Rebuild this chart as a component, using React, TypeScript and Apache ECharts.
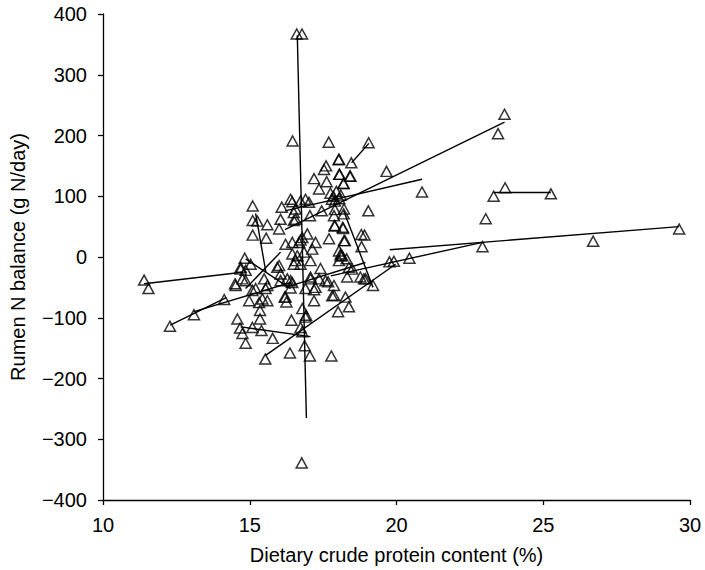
import React, { useEffect, useRef } from "react";
import * as echarts from "echarts";

// Scatter points: [crude protein %, rumen N balance g N/day]
const pointsX: number[] = [
  23.68, 23.46, 23.7, 23.31, 25.26, 23.04, 29.63, 26.7, 22.93, 20.44, 19.91, 19.76, 20.87, 19.66, 19.04, 19.05,
  16.6, 16.78, 16.46, 17.69,
  18.03, 18.46, 17.6, 17.53, 17.19, 18.05, 18.43, 17.62, 18.2, 17.36,
  16.39, 16.45, 16.73, 16.9, 17.02,
  17.75, 17.85, 17.95, 18.05, 17.9, 18.1, 17.8,
  15.1, 16.09, 16.56, 16.5, 17.05, 15.1, 15.26, 15.6, 16.05, 16.0, 16.56, 16.5, 17.87, 18.2, 17.9, 18.18,
  15.1, 15.56, 16.22, 16.45, 16.73, 16.96, 17.24, 17.7, 16.45, 16.62, 16.85, 17.07, 16.5, 16.73, 17.41, 18.1, 18.04,
  14.83, 14.69, 15.03, 11.4, 11.55,
  17.45, 17.9, 18.91, 18.24, 16.68, 16.79, 18.81, 17.13, 18.04, 18.1, 18.15, 18.3, 16.56, 18.38, 18.49,
  18.77, 18.89, 18.95, 19.2, 18.32, 17.07, 17.36, 17.58, 17.87, 16.39, 16.45, 16.9, 17.19, 17.81, 18.26,
  14.69, 14.86, 15.94, 16.05, 14.75, 14.86, 14.52, 15.49, 15.6, 15.54, 16.05, 16.28, 15.09, 15.2, 14.13,
  14.98, 15.43, 15.6, 16.22,
  12.28, 13.1, 14.58, 14.67, 14.75, 14.86, 15.09, 15.35, 15.4, 15.78, 15.53, 16.37, 17.05, 17.78, 16.77,
  16.73, 16.87, 16.9, 16.79, 14.5, 15.32, 15.35, 16.0, 16.19, 16.25, 16.39, 16.42, 17.07, 17.24, 17.19,
  17.67, 17.87, 16.92, 16.79, 18.01, 18.38, 18.21, 18.06, 18.19, 17.89, 18.17, 18.21, 18.8, 18.04, 18.41
];
const pointsY: number[] = [
  235, 203, 114, 100, 104, 63, 46, 26, 17, -2, -7, -8, 107, 141, 76, 188,
  367, 367, 191, 189,
  160, 155, 150, 144, 129, 136, 133, 124, 121, 112,
  95, 91, 92, 95, 90,
  105, 100, 108, 96, 92, 102, 95,
  84, 82, 79, 73, 68, 60, 59, 53, 62, 46, 62, 60, 68, 71, 51, 47,
  36, 31, 21, 24, 28, 38, 24, 30, 5, 2, 8, -6, -12, -12, -19, 2, -6,
  -2, -17, -12, -38, -52,
  76, 78, 36, 27, 24, 32, 17, 13, 10, 5, 2, -3, -6, -17, -20,
  -33, -36, -36, -47, -33, -33, -36, -39, -47, -39, -42, -52, -54, -64, -66,
  -20, -22, -17, -28, -36, -39, -47, -36, -47, -52, -39, -36, -55, -52, -70,
  -72, -69, -72, -66,
  -114, -95, -102, -117, -126, -142, -116, -102, -121, -134, -168, -158, -163, -163, -339,
  -116, -146, -99, -85, -44, -75, -88, -14, -66, -74, -51, -104, -36, -50, -72,
  -41, -63, -96, -123, -90, -82, 79, 136, 121, 52, 49, 27, 37, 161, 133
];

// Regression line segments: start x, start y, end x, end y
const segX1: number[] = [11.4, 12.29, 13.1, 14.69, 15.54, 16.62, 16.2, 16.2, 19.77, 23.31, 17.76, 18.47, 18.2, 15.2, 14.86, 14.86, 16.22];
const segY1: number[] = [-44, -112, -90, -115, -162, 365, 45, 76, 12, 106, -31, 155, 76, 72, -3, -52, -50];
const segX2: number[] = [14.75, 14.2, 16.4, 17.07, 19.97, 16.93, 23.68, 20.87, 29.63, 25.26, 22.93, 19.06, 19.2, 15.55, 16.39, 16.05, 18.94];
const segY2: number[] = [-25, -67, -42, -131, -12, -265, 222, 128, 50, 106, 24, 187, -50, -25, -52, 8, -9];

const xTicks = { min: 10, max: 30, interval: 5 };
const yTicks = { min: -400, max: 400, interval: 100 };

const FONT = "Liberation Sans, Arial, Helvetica, sans-serif";

export default function App() {
  const ref = useRef<HTMLDivElement>(null);
  useEffect(() => {
    if (!ref.current) return;
    const chart = echarts.init(ref.current, undefined, { renderer: "svg" });
    const scatterData = pointsX.map((x, i) => [x, pointsY[i]]);
    const lineData = segX1.map((x, i) => ({
      coords: [
        [x, segY1[i]],
        [segX2[i], segY2[i]],
      ],
    }));
    const fmt = (v: number) => String(v).replace("-", "\u2212");
    chart.setOption({
      animation: false,
      backgroundColor: "#fff",
      grid: { left: 102, right: 15, top: 14, bottom: 68, containLabel: false },
      xAxis: {
        type: "value",
        min: xTicks.min,
        max: xTicks.max,
        interval: xTicks.interval,
        name: "Dietary crude protein content (%)",
        nameLocation: "middle",
        nameGap: 45,
        nameTextStyle: { fontFamily: FONT, fontSize: 20, color: "#000" },
        axisLine: { show: true, onZero: false, lineStyle: { color: "#000", width: 1.3 } },
        axisTick: { show: true, inside: false, length: 5, lineStyle: { color: "#000", width: 1.3 } },
        axisLabel: { fontFamily: FONT, fontSize: 20, color: "#000", margin: 15, formatter: fmt },
        splitLine: { show: false },
      },
      yAxis: {
        type: "value",
        min: yTicks.min,
        max: yTicks.max,
        interval: yTicks.interval,
        name: "Rumen N balance (g N/day)",
        nameLocation: "middle",
        nameGap: 75,
        nameRotate: 90,
        nameTextStyle: { fontFamily: FONT, fontSize: 20, color: "#000" },
        axisLine: { show: true, onZero: false, lineStyle: { color: "#000", width: 1.3 } },
        axisTick: { show: true, inside: false, length: 5, lineStyle: { color: "#000", width: 1.3 } },
        axisLabel: { fontFamily: FONT, fontSize: 20, color: "#000", margin: 16, formatter: fmt },
        splitLine: { show: false },
      },
      series: [
        {
          type: "lines",
          coordinateSystem: "cartesian2d",
          polyline: false,
          silent: true,
          lineStyle: { color: "#000", width: 1.4, opacity: 1 },
          data: lineData,
          z: 2,
        },
        {
          type: "scatter",
          symbol: "triangle",
          symbolSize: [11, 10],
          itemStyle: { color: "rgba(255,255,255,0)", borderColor: "#000", borderWidth: 1.5 },
          data: scatterData,
          z: 3,
        },
      ],
    });
    return () => chart.dispose();
  }, []);
  return (
    <div
      ref={ref}
      style={{ position: "fixed", left: 0, top: 0, width: 705, height: 570 }}
    />
  );
}
